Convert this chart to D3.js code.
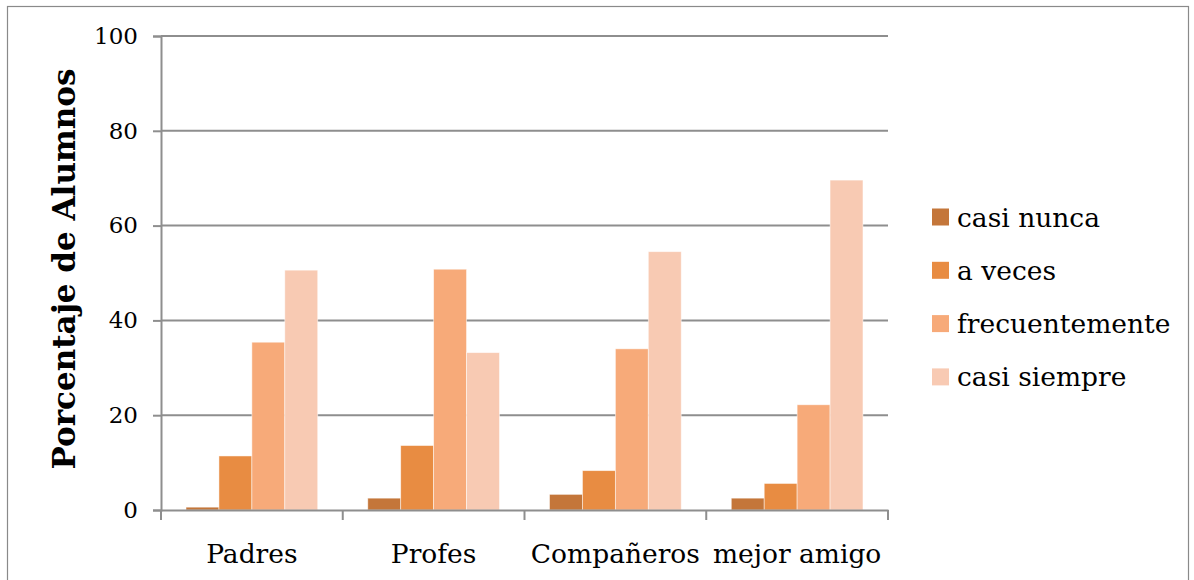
<!DOCTYPE html>
<html>
<head>
<meta charset="utf-8">
<script src="https://cdn.jsdelivr.net/npm/d3@7"></script>
<style>
  html, body { margin: 0; padding: 0; background: #fff; }
  svg { display: block; }
  text { font-family: "DejaVu Serif", "Liberation Serif", serif; fill: #000; }
</style>
</head>
<body>
<svg id="chart" width="1194" height="580"></svg>
<script>
const categories = ["Padres", "Profes", "Compañeros", "mejor amigo"];
const seriesNames = ["casi nunca", "a veces", "frecuentemente", "casi siempre"];
const casiNunca = [0.6, 2.5, 3.3, 2.5];
const aVeces = [11.4, 13.6, 8.3, 5.6];
const frecuentemente = [35.4, 50.8, 34.0, 22.2];
const casiSiempre = [50.6, 33.2, 54.5, 69.6];
const yTicks = [0, 20, 40, 60, 80, 100];
const seriesColors = ["#C4763A", "#E88C42", "#F7AA79", "#F8CAB3"];
const yTitle = "Porcentaje de Alumnos";

const seriesValues = [casiNunca, aVeces, frecuentemente, casiSiempre];

const svg = d3.select("#chart");
const plot = { left: 161, right: 888, top: 36, bottom: 510 };
const gridColor = "#8E8E8E";

// outer border
svg.append("rect")
  .attr("x", 7.5).attr("y", 6.5)
  .attr("width", 1181).attr("height", 600)
  .attr("fill", "none").attr("stroke", "#8A8A8A").attr("stroke-width", 1.2);

const x0 = d3.scaleBand().domain(categories).range([plot.left, plot.right]).padding(0);
const x1 = d3.scaleBand().domain(seriesNames).range([0, x0.bandwidth()])
  .paddingInner(0).paddingOuter(0.76);
const y = d3.scaleLinear().domain([0, 100]).range([plot.bottom, plot.top]);
const color = d3.scaleOrdinal().domain(seriesNames).range(seriesColors);

// gridlines
svg.append("g").selectAll("line")
  .data(yTicks.filter(t => t !== 0))
  .join("line")
  .attr("x1", plot.left).attr("x2", plot.right)
  .attr("y1", d => y(d)).attr("y2", d => y(d))
  .attr("stroke", gridColor).attr("stroke-width", 2);

// bars
const groups = svg.append("g").selectAll("g")
  .data(categories)
  .join("g")
  .attr("transform", c => `translate(${x0(c)},0)`);

groups.selectAll("rect")
  .data((c, i) => seriesNames.map((s, j) => ({ s, v: seriesValues[j][i] })))
  .join("rect")
  .attr("x", d => x1(d.s))
  .attr("width", x1.bandwidth())
  .attr("y", d => y(d.v))
  .attr("height", d => y(0) - y(d.v))
  .attr("fill", d => color(d.s))
  .attr("stroke", "#fff")
  .attr("stroke-opacity", 0.6)
  .attr("stroke-width", 0.8);

// y axis
const yAxis = svg.append("g")
  .attr("transform", `translate(${plot.left},0)`)
  .call(d3.axisLeft(y).tickValues(yTicks).tickSize(8).tickPadding(15).tickFormat(d3.format("d")));
yAxis.select(".domain").attr("stroke", gridColor).attr("stroke-width", 2);
yAxis.selectAll(".tick line").attr("stroke", gridColor).attr("stroke-width", 2);
yAxis.selectAll("text").style("font-size", "23px").attr("fill", "#000");

// x axis
const xAxis = svg.append("g")
  .attr("transform", `translate(0,${plot.bottom})`)
  .call(d3.axisBottom(x0).tickSize(0).tickPadding(34));
xAxis.select(".domain").attr("stroke", gridColor).attr("stroke-width", 2);
xAxis.selectAll("text").style("font-size", "26.5px").attr("fill", "#000");

// category boundary ticks
const bounds = categories.map(c => x0(c)).concat([x0(categories[categories.length - 1]) + x0.bandwidth()]);
svg.append("g").selectAll("line")
  .data(bounds)
  .join("line")
  .attr("x1", d => d).attr("x2", d => d)
  .attr("y1", plot.bottom).attr("y2", plot.bottom + 10)
  .attr("stroke", gridColor).attr("stroke-width", 2);

// y title
svg.append("text")
  .attr("transform", `translate(75,${(plot.top + plot.bottom) / 2 - 4}) rotate(-90)`)
  .attr("text-anchor", "middle")
  .style("font-size", "31px")
  .style("font-weight", "bold")
  .text(yTitle);

// legend
const legend = svg.append("g").selectAll("g")
  .data(seriesNames)
  .join("g")
  .attr("transform", (d, i) => `translate(932,${217 + i * 53.3})`);
legend.append("rect")
  .attr("x", 0).attr("y", -8.5)
  .attr("width", 17).attr("height", 17)
  .attr("fill", d => color(d));
legend.append("text")
  .attr("x", 25).attr("y", 9.5)
  .style("font-size", "26.5px")
  .text(d => d);
</script>
</body>
</html>
